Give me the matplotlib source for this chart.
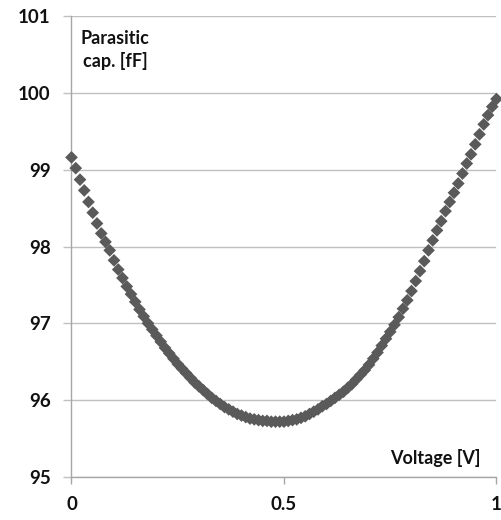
import matplotlib
matplotlib.use("Agg")
import matplotlib.pyplot as plt
from matplotlib.ticker import FixedLocator, FixedFormatter

voltage = [i / 100 for i in range(101)]
capacitance = [
    99.16, 99.02, 98.87, 98.73, 98.58, 98.44, 98.30, 98.17, 98.06, 97.95,
    97.82, 97.70, 97.59, 97.48, 97.38, 97.28, 97.18, 97.09, 97.00, 96.92,
    96.84, 96.76, 96.68, 96.61, 96.54, 96.47, 96.41, 96.35, 96.29, 96.23,
    96.18, 96.13, 96.08, 96.03, 95.99, 95.95, 95.91, 95.88, 95.85, 95.82,
    95.80, 95.78, 95.76, 95.75, 95.74, 95.73, 95.73, 95.72, 95.72, 95.72,
    95.72, 95.73, 95.74, 95.75, 95.77, 95.79, 95.82, 95.85, 95.88, 95.92,
    95.95, 95.99, 96.03, 96.07, 96.11, 96.16, 96.21, 96.27, 96.33, 96.39,
    96.46, 96.54, 96.62, 96.71, 96.80, 96.89, 96.98, 97.08, 97.19, 97.30,
    97.42, 97.55, 97.68, 97.81, 97.95, 98.08, 98.21, 98.33, 98.46, 98.58,
    98.70, 98.82, 98.95, 99.08, 99.20, 99.33, 99.46, 99.59, 99.71, 99.82,
    99.92,
]
x_ticks = [0, 0.5, 1]
x_tick_labels = ["0", "0.5", "1"]
y_ticks = [95, 96, 97, 98, 99, 100, 101]
y_tick_labels = ["95", "96", "97", "98", "99", "100", "101"]

plt.rcParams['font.family'] = ['Lato', 'DejaVu Sans']

fig = plt.figure(figsize=(5.01, 5.20), dpi=100)
ax = fig.add_axes([0.1427, 0.0827, 0.8483, 0.8865])

ax.scatter(voltage, capacitance, marker='D', s=42, color='#5a5a5a',
           edgecolors='none', zorder=3, clip_on=False)

ax.set_xlim(0, 1)
ax.set_ylim(95, 101)
ax.xaxis.set_major_locator(FixedLocator(x_ticks))
ax.xaxis.set_major_formatter(FixedFormatter(x_tick_labels))
ax.yaxis.set_major_locator(FixedLocator(y_ticks))
ax.yaxis.set_major_formatter(FixedFormatter(y_tick_labels))

ax.grid(axis='y', color='#c0c0c0', linewidth=1.0, zorder=0)
ax.set_axisbelow(True)
for side in ['top', 'right']:
    ax.spines[side].set_visible(False)
for side in ['left', 'bottom']:
    ax.spines[side].set_color('#a6a6a6')
    ax.spines[side].set_linewidth(1.0)

ax.tick_params(axis='x', direction='out', length=5, width=1.0, color='#a6a6a6',
               pad=9, labelsize=13.5)
ax.tick_params(axis='y', direction='out', length=6, width=1.0, color='#c0c0c0',
               pad=9, labelsize=13.5)
for lbl in ax.get_xticklabels() + ax.get_yticklabels():
    lbl.set_fontweight('bold')
    lbl.set_color('#111111')

fig.text(115 / 501, 1 - 30 / 520, "Parasitic\ncap. [fF]", ha='center', va='top',
         fontsize=13, fontweight='bold', linespacing=1.3, color='#111111')
fig.text(435 / 501, 1 - 458 / 520, "Voltage [V]", ha='center', va='center',
         fontsize=13, fontweight='bold', color='#111111')

fig.savefig("out.png", dpi=100)
